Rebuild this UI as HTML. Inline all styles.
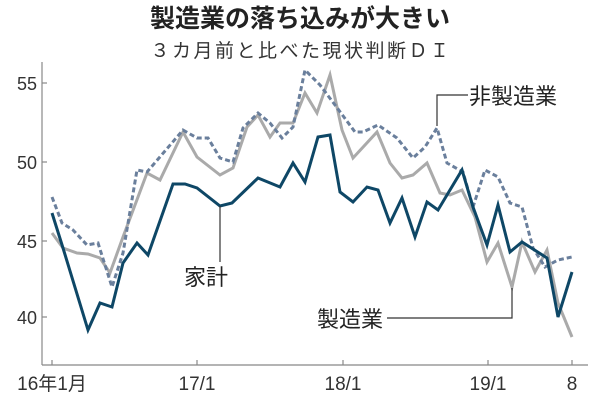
<!DOCTYPE html>
<html><head><meta charset="utf-8"><style>
body{margin:0;background:#fff;}
svg{display:block;font-family:"Liberation Sans","Noto Sans CJK JP",sans-serif;}
</style></head><body>
<svg width="600" height="407" viewBox="0 0 600 407" xmlns="http://www.w3.org/2000/svg">
<text x="300" y="27" text-anchor="middle" font-size="25" font-weight="bold" fill="#222">製造業の落ち込みが大きい</text>
<text x="301" y="57" text-anchor="middle" font-size="19" fill="#333" letter-spacing="2.5">３カ月前と比べた現状判断ＤＩ</text>
<g stroke="#888" stroke-width="1.2" fill="none">
<line x1="42" y1="62" x2="42" y2="365"/>
<line x1="42" y1="365" x2="588" y2="365"/>
<line x1="42" y1="83" x2="47" y2="83"/><line x1="42" y1="162" x2="47" y2="162"/>
<line x1="42" y1="241" x2="47" y2="241"/><line x1="42" y1="317" x2="47" y2="317"/>
<line x1="52" y1="365" x2="52" y2="360"/><line x1="197" y1="365" x2="197" y2="360"/>
<line x1="343" y1="365" x2="343" y2="360"/><line x1="488" y1="365" x2="488" y2="360"/>
<line x1="572" y1="365" x2="572" y2="360"/>
</g>
<g font-size="18" fill="#333" text-anchor="end">
<text x="37" y="90">55</text><text x="37" y="169">50</text><text x="37" y="248">45</text><text x="37" y="324">40</text>
</g>
<g font-size="19" fill="#333" text-anchor="middle">
<text x="52" y="390">16年1月</text><text x="197" y="390">17/1</text><text x="343" y="390">18/1</text><text x="488" y="390">19/1</text><text x="572" y="390">8</text>
</g>
<polyline fill="none" stroke="#aaa" stroke-width="3" points="52,233 63,248 77,253 88,254 100,258 110,273 123,237 147,173 160,180 183,132 197,157 220,175 233,168 247,127 258,115 270,137 280,123 293,123 305,93 317,113 330,75 342,130 353,158 377,132 390,163 402,178 413,175 427,163 440,193 450,195 462,190 475,217 487,262 498,243 512,287 522,242 535,272 547,250 558,303 572,337"/>
<polyline fill="none" stroke="#6a7f9c" stroke-width="3" stroke-dasharray="5,3" points="52,197 62,223 73,230 87,245 98,243 112,287 123,253 137,170 147,172 183,130 197,138 208,138 220,158 233,162 243,128 258,113 270,123 282,138 293,127 305,70 320,85 335,105 355,132 363,132 378,125 397,138 413,158 425,147 437,128 447,163 463,172 473,207 485,170 498,177 510,203 522,207 533,248 545,267 558,260 572,257"/>
<polyline fill="none" stroke="#0e4766" stroke-width="3" points="52,213 63,248 88,330 100,303 112,307 123,263 137,243 148,255 173,184 185,184 197,188 220,206 232,203 258,178 280,187 293,163 305,182 318,137 330,135 340,192 353,202 367,187 378,190 390,223 402,198 415,237 427,202 438,210 462,170 473,207 487,245 498,205 510,252 522,242 547,258 558,317 572,272"/>
<g stroke="#333" stroke-width="1.2" fill="none">
<polyline points="220,206 220,262"/>
<polyline points="437,126 437,95 468,95"/>
<polyline points="387,318 512,318 512,288"/>
</g>
<g font-size="22" fill="#222">
<text x="184" y="285">家計</text>
<text x="469" y="104">非製造業</text>
<text x="317" y="327">製造業</text>
</g>
</svg>
</body></html>
